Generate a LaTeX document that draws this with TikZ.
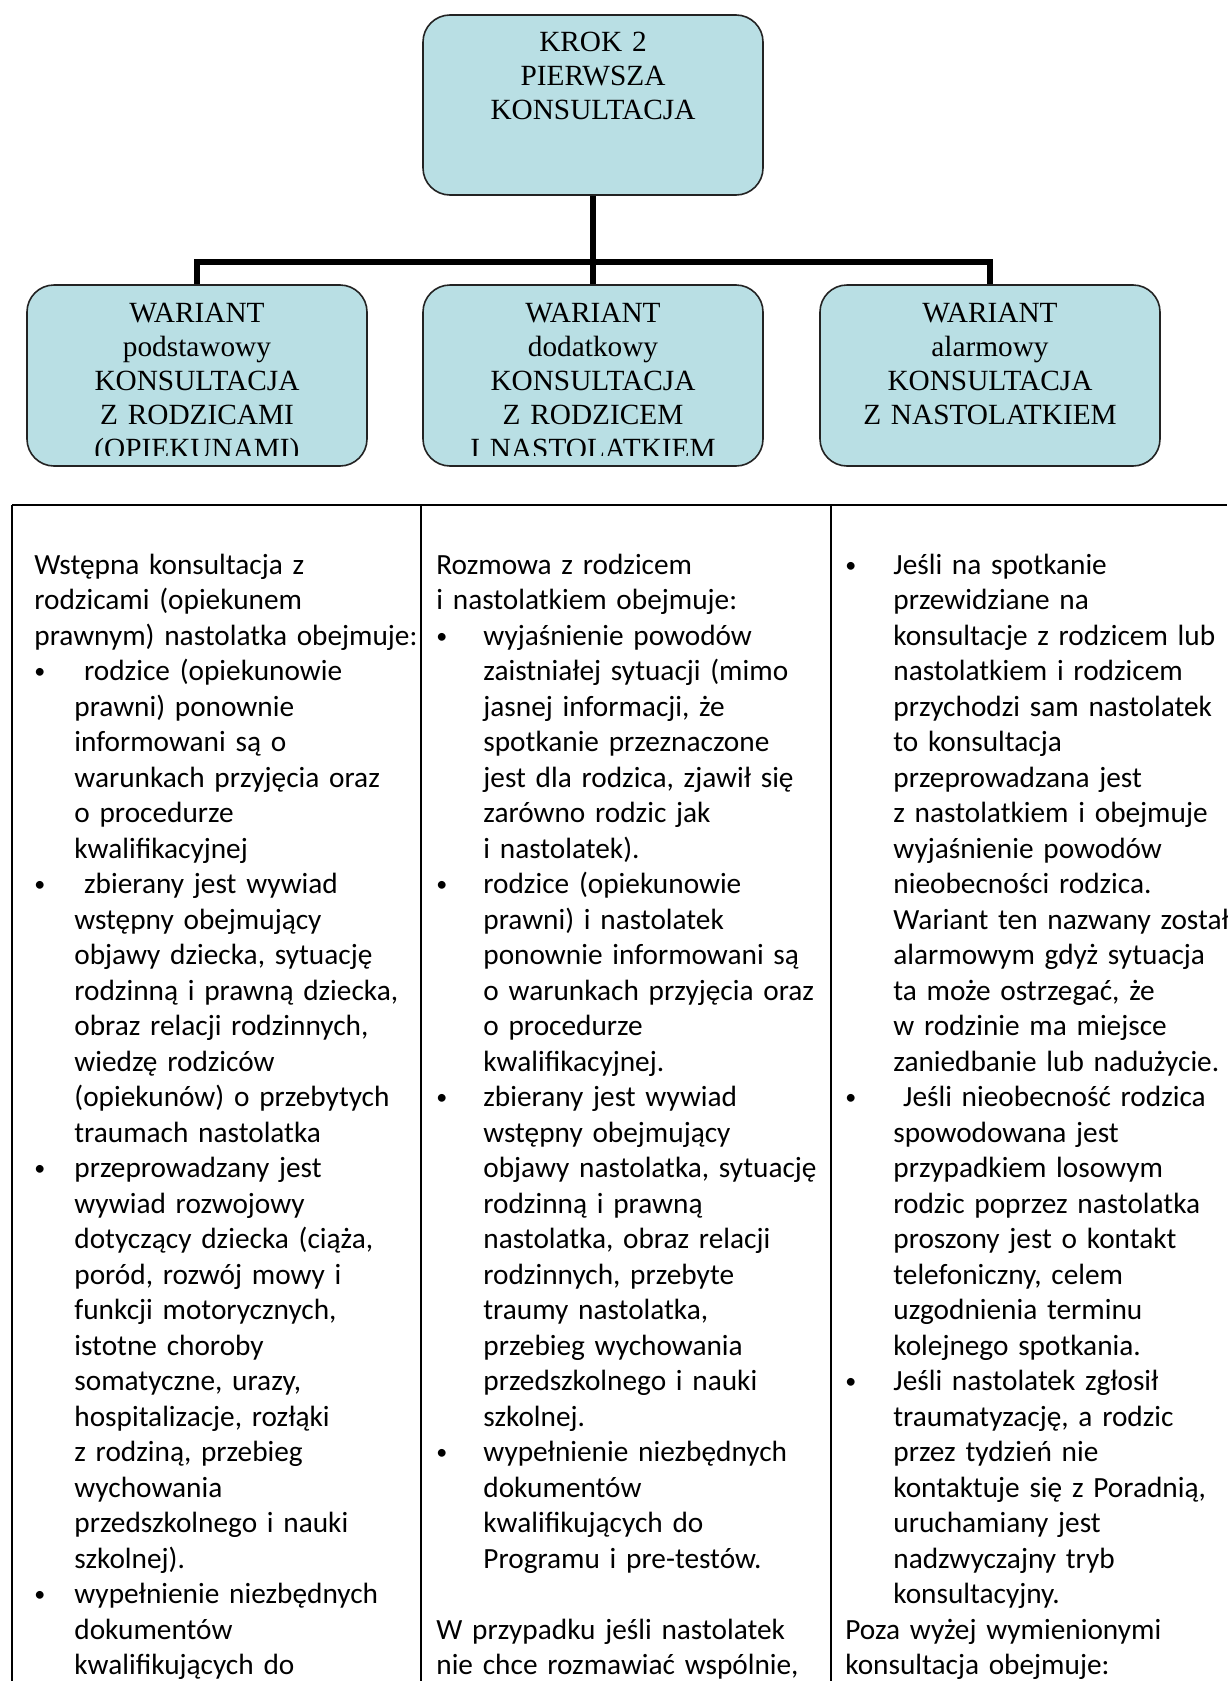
\documentclass[tikz,border=0pt]{standalone}
\usepackage{fontspec}
\setmainfont{Liberation Serif}
\newfontfamily\cellfont{Carlito}
\usetikzlibrary{calc}
\definecolor{boxfill}{RGB}{185,223,228}
\definecolor{boxline}{RGB}{35,35,35}
\newlength{\hang}
% bullet line start and continuation indent inside a cell
\newcommand{\bulhere}{\makebox[\hang][l]{\raisebox{0.9pt}{\fontsize{11pt}{11pt}\selectfont•}}}
\newcommand{\conthere}{\hspace*{\hang}}
\begin{document}
\begin{tikzpicture}[x=0.5pt,y=-0.5pt,
  box/.style={draw=boxline, line width=0.8pt, fill=boxfill, rounded corners=13.5pt,
    minimum width=170pt, inner sep=0pt},
  conn/.style={line width=2.6pt, line join=miter, black},
  head/.style={font=\fontsize{14.65pt}{17pt}\selectfont, text width=168pt,
    align=center, inner sep=0pt, anchor=base},
  cell/.style={font=\cellfont\fontsize{14.65pt}{17.75pt}\selectfont, text width=215pt,
    align=left, inner sep=0pt, anchor=base west},
  grid/.style={line width=1pt, black}]
\useasboundingbox (0,0) rectangle (1227,1681);
\fill[white] (0,0) rectangle (1227,1681);

% step box and the three variants
\node[box, minimum height=90pt] (krok) at (593,105) {};
\node[box, minimum height=90.5pt] (w1) at (197,375.5) {};
\node[box, minimum height=90.5pt] (w2) at (593,375.5) {};
\node[box, minimum height=90.5pt] (w3) at (990,375.5) {};

\node[head] (krokT) at ($(krok.north)+(0,37)$) {KROK 2\\PIERWSZA\\KONSULTACJA};

\begin{scope}
  \clip ($(w1.south west)+(0,-11)$) rectangle (w1.north east);
  \node[head] (w1T) at ($(w1.north)+(0,38)$)
    {WARIANT\\podstawowy\\KONSULTACJA\\Z RODZICAMI\\(OPIEKUNAMI)};
\end{scope}
\begin{scope}
  \clip ($(w2.south west)+(0,-11)$) rectangle (w2.north east);
  \node[head] (w2T) at ($(w2.north)+(0,38)$)
    {WARIANT\\dodatkowy\\KONSULTACJA\\Z RODZICEM\\I NASTOLATKIEM};
\end{scope}
\begin{scope}
  \clip ($(w3.south west)+(0,-11)$) rectangle (w3.north east);
  \node[head] (w3T) at ($(w3.north)+(0,38)$)
    {WARIANT\\alarmowy\\KONSULTACJA\\Z NASTOLATKIEM};
\end{scope}

% connectors
\coordinate (hub) at (593,262);
\draw[conn] (krok.south) -- (w2.north);
\draw[conn] (w1.north) |- (hub) -| (w3.north);

% table rules
\draw[grid] (12,505) -- (1227,505);
\draw[grid] (12,505) -- (12,1681);
\draw[grid] (421,505) -- (421,1681);
\draw[grid] (831,505) -- (831,1681);

% column 1
\node[cell] (c1) at (34,574) {\setlength{\hang}{20pt}%
Wstępna konsultacja z\\
rodzicami (opiekunem\\
prawnym) nastolatka obejmuje:\\
\bulhere\ rodzice (opiekunowie\\
\conthere prawni) ponownie\\
\conthere informowani są o\\
\conthere warunkach przyjęcia oraz\\
\conthere o procedurze\\
\conthere kwalifikacyjnej\\
\bulhere\ zbierany jest wywiad\\
\conthere wstępny obejmujący\\
\conthere objawy dziecka, sytuację\\
\conthere rodzinną i prawną dziecka,\\
\conthere obraz relacji rodzinnych,\\
\conthere wiedzę rodziców\\
\conthere (opiekunów) o przebytych\\
\conthere traumach nastolatka\\
\bulhere przeprowadzany jest\\
\conthere wywiad rozwojowy\\
\conthere dotyczący dziecka (ciąża,\\
\conthere poród, rozwój mowy i\\
\conthere funkcji motorycznych,\\
\conthere istotne choroby\\
\conthere somatyczne, urazy,\\
\conthere hospitalizacje, rozłąki\\
\conthere z rodziną, przebieg\\
\conthere wychowania\\
\conthere przedszkolnego i nauki\\
\conthere szkolnej).\\
\bulhere wypełnienie niezbędnych\\
\conthere dokumentów\\
\conthere kwalifikujących do};

% column 2
\node[cell] (c2) at (436,574) {\setlength{\hang}{23.5pt}%
Rozmowa z rodzicem\\
i nastolatkiem obejmuje:\\
\bulhere wyjaśnienie powodów\\
\conthere zaistniałej sytuacji (mimo\\
\conthere jasnej informacji, że\\
\conthere spotkanie przeznaczone\\
\conthere jest dla rodzica, zjawił się\\
\conthere zarówno rodzic jak\\
\conthere i nastolatek).\\
\bulhere rodzice (opiekunowie\\
\conthere prawni) i nastolatek\\
\conthere ponownie informowani są\\
\conthere o warunkach przyjęcia oraz\\
\conthere o procedurze\\
\conthere kwalifikacyjnej.\\
\bulhere zbierany jest wywiad\\
\conthere wstępny obejmujący\\
\conthere objawy nastolatka, sytuację\\
\conthere rodzinną i prawną\\
\conthere nastolatka, obraz relacji\\
\conthere rodzinnych, przebyte\\
\conthere traumy nastolatka,\\
\conthere przebieg wychowania\\
\conthere przedszkolnego i nauki\\
\conthere szkolnej.\\
\bulhere wypełnienie niezbędnych\\
\conthere dokumentów\\
\conthere kwalifikujących do\\
\conthere Programu i pre-testów.\\
\mbox{}\\
W przypadku jeśli nastolatek\\
nie chce rozmawiać wspólnie,};

% column 3
\node[cell] (c3) at (845,574) {\setlength{\hang}{24pt}%
\bulhere Jeśli na spotkanie\\
\conthere przewidziane na\\
\conthere konsultacje z rodzicem lub\\
\conthere nastolatkiem i rodzicem\\
\conthere przychodzi sam nastolatek\\
\conthere to konsultacja\\
\conthere przeprowadzana jest\\
\conthere z nastolatkiem i obejmuje\\
\conthere wyjaśnienie powodów\\
\conthere nieobecności rodzica.\\
\conthere Wariant ten nazwany został\\
\conthere alarmowym gdyż sytuacja\\
\conthere ta może ostrzegać, że\\
\conthere w rodzinie ma miejsce\\
\conthere zaniedbanie lub nadużycie.\\
\bulhere\ Jeśli nieobecność rodzica\\
\conthere spowodowana jest\\
\conthere przypadkiem losowym\\
\conthere rodzic poprzez nastolatka\\
\conthere proszony jest o kontakt\\
\conthere telefoniczny, celem\\
\conthere uzgodnienia terminu\\
\conthere kolejnego spotkania.\\
\bulhere Jeśli nastolatek zgłosił\\
\conthere traumatyzację, a rodzic\\
\conthere przez tydzień nie\\
\conthere kontaktuje się z Poradnią,\\
\conthere uruchamiany jest\\
\conthere nadzwyczajny tryb\\
\conthere konsultacyjny.\\
Poza wyżej wymienionymi\\
konsultacja obejmuje:};
\end{tikzpicture}
\end{document}
